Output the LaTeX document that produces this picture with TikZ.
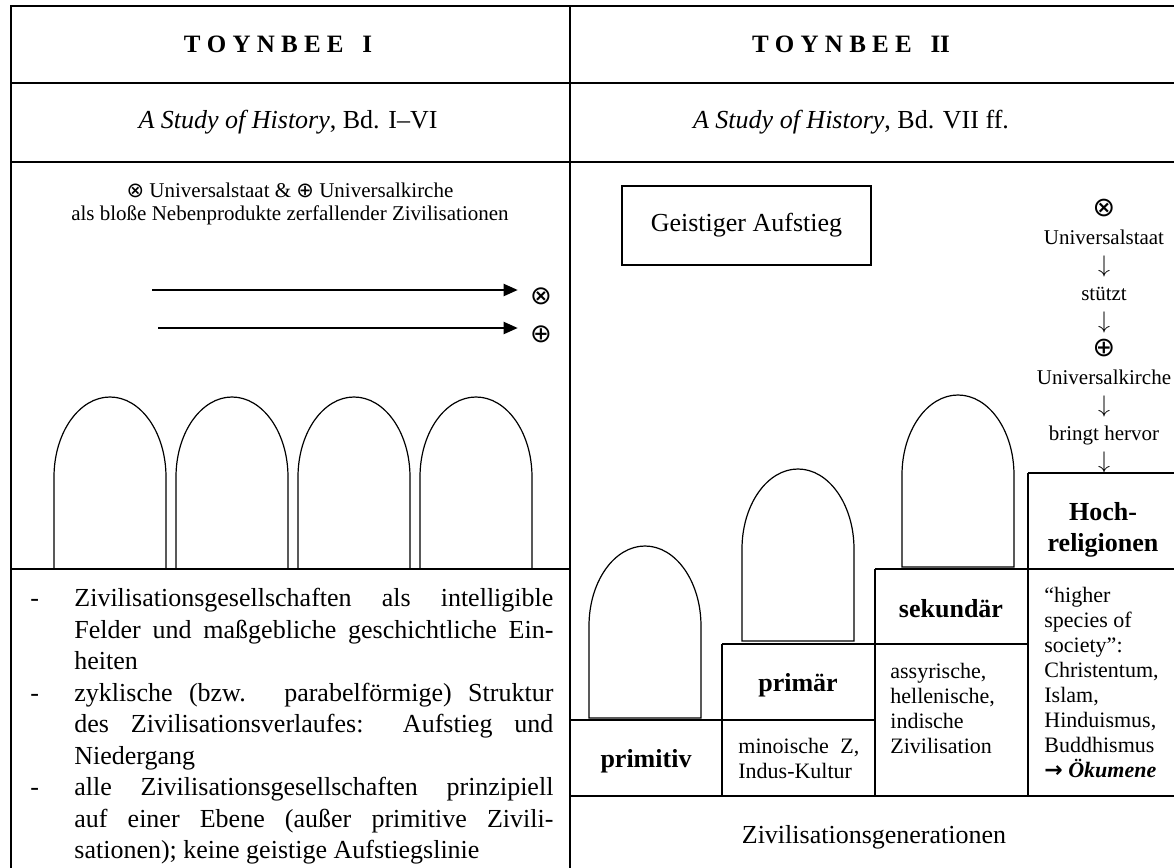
\documentclass[tikz,border=0pt]{standalone}
\usepackage{fontspec}
\setmainfont{Liberation Serif}
\newfontfamily\symfont{DejaVu Sans}
\usetikzlibrary{arrows.meta, positioning}
\setlength{\parindent}{0pt}

% one arch: left foot x, base y (pixel units)
\newcommand{\archAt}[2]{%
  \draw[archline] (#1,#2) -- (#1,#2-92) arc[start angle=180, end angle=0, x radius=28pt, y radius=40pt] -- (#1+112,#2) -- cycle;}
\newcommand{\dashitem}{\leavevmode\llap{\makebox[22pt][l]{-}}}
\newcommand{\downstep}{{\fontsize{13}{14}\selectfont$\downarrow$}}

\begin{document}
\begin{tikzpicture}[x=0.5pt, y=-0.5pt, >=Stealth]
  \tikzstyle{grid} = [line width=1pt]
  \tikzstyle{archline} = [line width=0.6pt]
  \tikzstyle{head} = [inner sep=0pt, font=\fontsize{12.5}{15}\selectfont\bfseries]
  \tikzstyle{sub} = [inner sep=0pt, font=\fontsize{13}{15.75}\selectfont]
  \tikzstyle{note} = [inner sep=0pt, align=center, font=\fontsize{10.5}{11.5}\selectfont]
  \tikzstyle{bigsym} = [inner sep=0pt, font=\symfont\fontsize{13}{15}\selectfont]
  \tikzstyle{flow} = [-{Triangle[length=7pt,width=6pt]}, line width=1pt, shorten >=6pt]
  \tikzstyle{bullets} = [inner sep=0pt, anchor=north west, text width=239.5pt, align=justify, font=\fontsize{13}{15.75}\selectfont]
  \tikzstyle{tier} = [inner sep=0pt, font=\fontsize{13}{15.75}\selectfont\bfseries]
  \tikzstyle{small} = [inner sep=0pt, anchor=north west, font=\fontsize{11}{12.5}\selectfont]
  \tikzstyle{chain} = [inner sep=0pt, align=center, font=\fontsize{10.5}{14}\selectfont]

  \useasboundingbox (0,0) rectangle (1174,868);

  % Table frame
  \draw[grid] (1174,6) -- (11,6) -- (11,868);
  \draw[grid] (570,6) -- (570,868);
  \draw[grid] (11,83) -- (1174,83);
  \draw[grid] (11,162) -- (1174,162);
  \draw[grid] (11,569) -- (570,569);

  % Right column: steps of the generations
  \draw[grid] (570,720) -- (875,720);
  \draw[grid] (722,644) -- (1028,644);
  \draw[grid] (875,569) -- (1174,569);
  \draw[grid] (1028,473) -- (1174,473);
  \draw[grid] (570,796) -- (1174,796);
  \draw[grid] (722,644) -- (722,796);
  \draw[grid] (875,569) -- (875,796);
  \draw[grid] (1028,473) -- (1028,796);

  % Header rows
  \node[head] (titleI) at (278,44) {T O Y N B E E \ \ I};
  \node[head] (titleII) at (851,44) {T O Y N B E E \ \ II};
  \node[sub] (studyI) at (288,122) {\textit{A Study of History}, Bd. I–VI};
  \node[sub] (studyII) at (851,122) {\textit{A Study of History}, Bd. VII ff.};

  % Toynbee I: by-products and cycles
  \node[note] (byproduct) at (290,204) {{\symfont ⊗} Universalstaat \& {\symfont ⊕} Universalkirche\\als bloße Nebenprodukte zerfallender Zivilisationen};
  \coordinate (stateTail) at (152,290);
  \coordinate (churchTail) at (158,328);
  \node[bigsym] (stateSym) at (541,296) {⊗};
  \node[bigsym] (churchSym) at (541,334) {⊕};
  \draw[flow] (stateTail) -- (stateTail -| stateSym.west);
  \draw[flow] (churchTail) -- (churchTail -| churchSym.west);
  \foreach \ax in {54,176,298,420} {\archAt{\ax}{569}}

  \node[bullets] (features) at (74,588) {%
    \dashitem Zivilisationsgesellschaften als intelligible\linebreak Felder und maßgebliche geschichtliche Ein-\linebreak heiten\par
    \dashitem zyklische (bzw. parabelförmige) Struktur\linebreak des Zivilisationsverlaufes: Aufstieg und\linebreak Niedergang\par
    \dashitem alle Zivilisationsgesellschaften prinzipiell\linebreak auf einer Ebene (außer primitive Zivili-\linebreak sationen); keine geistige Aufstiegslinie};

  % Toynbee II: spiritual ascent
  \node[sub, draw, line width=0.8pt, minimum width=124.5pt, minimum height=39.5pt] (ascent) at (746.5,225.5) {Geistiger Aufstieg};
  \node[chain] (sequence) at (1104,336) {{\symfont\fontsize{13.5}{14}\selectfont ⊗}\\Universalstaat\\\downstep\\stützt\\\downstep\\{\symfont\fontsize{13.5}{14}\selectfont ⊕}\\Universalkirche\\\downstep\\bringt hervor\\\downstep};

  \archAt{589}{718}
  \archAt{742}{641}
  \archAt{902}{567}

  \node[tier] (primitive) at (646,761) {primitiv};
  \node[tier] (primary) at (798,685) {primär};
  \node[tier] (secondary) at (951,609) {sekundär};
  \node[tier, align=center] (highrel) at (1103,530) {Hoch-\\religionen};

  \node[small, text width=60.5pt, align=justify] (minoan) at (738,738) {minoische Z,\linebreak Indus-Kultur};
  \node[small, align=left] (assyrian) at (890,663) {assyrische,\\hellenische,\\indische\\Zivilisation};
  \node[small, align=left] (species) at (1044,587) {“higher\\species of\\society”:\\Christentum,\\Islam,\\Hinduismus,\\Buddhismus\\{\symfont\bfseries →} \textbf{\textit{Ökumene}}};

  \node[sub] (generations) at (874,837) {Zivilisationsgenerationen};
\end{tikzpicture}
\end{document}
